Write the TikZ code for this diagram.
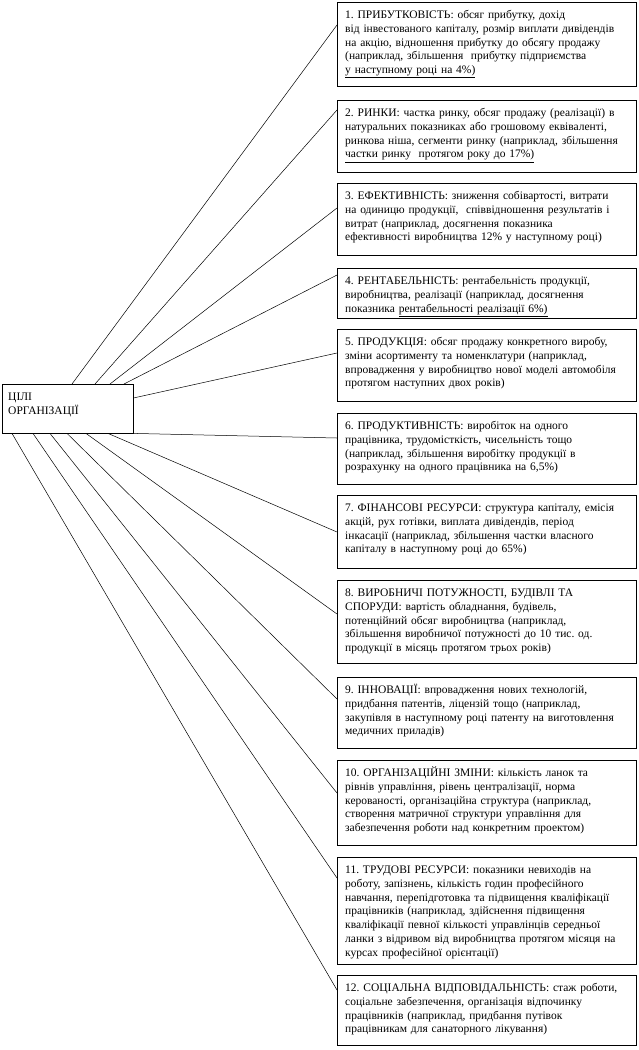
\documentclass[tikz,border=0pt]{standalone}
\usepackage{fontspec}
\setmainfont{Liberation Serif}
\usepackage{tikz}
\usetikzlibrary{positioning}
\frenchspacing

\begin{document}
\begin{tikzpicture}[x=1pt,y=-1pt]
\tikzstyle{goal}=[draw,anchor=north west,align=left,text width=283pt,inner xsep=8pt,inner ysep=5pt,text height=11pt,font=\fontsize{11.5}{13.9}\selectfont]
\tikzstyle{link}=[draw,line width=0.5pt]

\useasboundingbox (0,0) rectangle (638,1050);

\node[goal,text width=119pt,inner xsep=6pt,text depth=28pt] (aims) at (2,384) {ЦІЛІ\\ОРГАНІЗАЦІЇ};

\node[goal,text depth=63pt] (g1) at (337,2) {1. ПРИБУТКОВІСТЬ: обсяг прибутку, дохід\\від інвестованого капіталу, розмір виплати дивідендів\\на акцію, відношення прибутку до обсягу продажу\\(наприклад, збільшення\ \ прибутку підприємства\\\underline{у наступному році на 4\%)}};
\node[goal,text depth=51pt] (g2) at (337,100) {2. РИНКИ: частка ринку, обсяг продажу (реалізації) в\\натуральних показниках або грошовому еквіваленті,\\ринкова ніша, сегменти ринку (наприклад, збільшення\\\underline{частки ринку\ \ протягом року до 17\%)}};
\node[goal,text depth=51pt] (g3) at (337,183) {3. ЕФЕКТИВНІСТЬ: зниження собівартості, витрати\\на одиницю продукції,\ \ співвідношення результатів і\\витрат (наприклад, досягнення показника\\ефективності виробництва 12\% у наступному році)};
\node[goal,text depth=29pt] (g4) at (337,268) {4. РЕНТАБЕЛЬНІСТЬ: рентабельність продукції,\\виробництва, реалізації (наприклад, досягнення\\показника \underline{рентабельності реалізації 6\%)}};
\node[goal,text depth=51pt] (g5) at (337,329) {5. ПРОДУКЦІЯ: обсяг продажу конкретного виробу,\\зміни асортименту та номенклатури (наприклад,\\впровадження у виробництво нової моделі автомобіля\\протягом наступних двох років)};
\node[goal,text depth=50pt] (g6) at (337,413) {6. ПРОДУКТИВНІСТЬ: виробіток на одного\\працівника, трудомісткість, чисельність тощо\\(наприклад, збільшення виробітку продукції в\\розрахунку на одного працівника на 6,5\%)};
\node[goal,text depth=52pt] (g7) at (337,495) {7. ФІНАНСОВІ РЕСУРСИ: структура капіталу, емісія\\акцій, рух готівки, виплата дивідендів, період\\інкасації (наприклад, збільшення частки власного\\капіталу в наступному році до 65\%)};
\node[goal,text depth=62pt] (g8) at (337,580) {8. ВИРОБНИЧІ ПОТУЖНОСТІ, БУДІВЛІ ТА\\СПОРУДИ: вартість обладнання, будівель,\\потенційний обсяг виробництва (наприклад,\\збільшення виробничої потужності до 10 тис. од.\\продукції в місяць протягом трьох років)};
\node[goal,text depth=50pt] (g9) at (337,677) {9. ІННОВАЦІЇ: впровадження нових технологій,\\придбання патентів, ліцензій тощо (наприклад,\\закупівля в наступному році патенту на виготовлення\\медичних приладів)};
\node[goal,text depth=64pt] (g10) at (337,760) {10. ОРГАНІЗАЦІЙНІ ЗМІНИ: кількість ланок та\\рівнів управління, рівень централізації, норма\\керованості, організаційна структура (наприклад,\\створення матричної структури управління для\\забезпечення роботи над конкретним проектом)};
\node[goal,text depth=86pt] (g11) at (337,857) {11. ТРУДОВІ РЕСУРСИ: показники невиходів на\\роботу, запізнень, кількість годин професійного\\навчання, перепідготовка та підвищення кваліфікації\\працівників (наприклад, здійснення підвищення\\кваліфікації певної кількості управлінців середньої\\ланки з відривом від виробництва протягом місяця на\\курсах професійної орієнтації)};
\node[goal,text depth=49pt] (g12) at (337,975) {12. СОЦІАЛЬНА ВІДПОВІДАЛЬНІСТЬ: стаж роботи,\\соціальне забезпечення, організація відпочинку\\працівників (наприклад, придбання путівок\\працівникам для санаторного лікування)};

% lines from the goals box
\draw[link] (aims.north -| 72,0) -- (g1.west |- 0,25);
\draw[link] (aims.north -| 95,0) -- (g2.west |- 0,110);
\draw[link] (aims.north -| 110,0) -- (g3.west |- 0,208);
\draw[link] (aims.north -| 124,0) -- (g4.west |- 0,275);
\draw[link] (aims.east |- 0,398) -- (g5.west |- 0,353);
\draw[link] (aims.south east) -- (g6.west |- 0,438);
\draw[link] (aims.south -| 108,0) -- (g7.west |- 0,532);
\draw[link] (aims.south -| 86,0) -- (g8.west |- 0,614);
\draw[link] (aims.south -| 67,0) -- (g9.west |- 0,699);
\draw[link] (aims.south -| 50,0) -- (g10.west |- 0,793);
\draw[link] (aims.south -| 33,0) -- (g11.west |- 0,878);
\draw[link] (aims.south -| 12,0) -- (g12.west |- 0,990);

\end{tikzpicture}
\end{document}
